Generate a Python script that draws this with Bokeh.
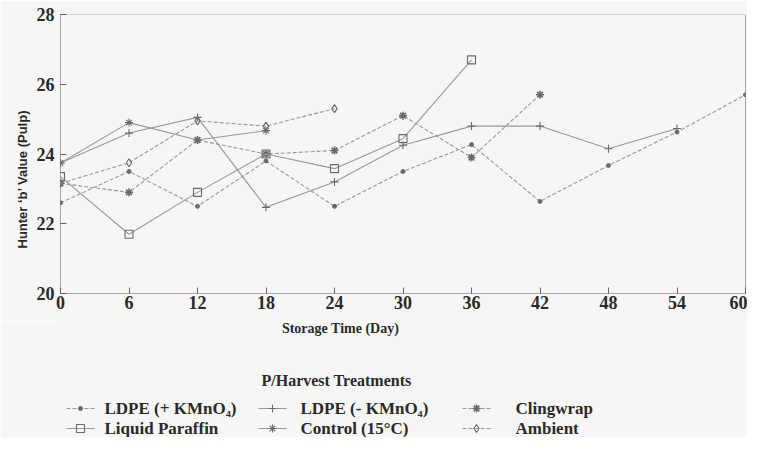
from bokeh.plotting import figure
from bokeh.layouts import column
from bokeh.models import Range1d, Span, FixedTicker, Title
from bokeh.core.properties import value
from bokeh.embed import file_html
from bokeh.resources import INLINE

# ---- data ----
days_all = [0, 6, 12, 18, 24, 30, 36, 42, 48, 54, 60]
ldpe_plus = [22.6, 23.5, 22.5, 23.8, 22.5, 23.5, 24.27, 22.64, 23.67, 24.63, 25.7]
ldpe_minus = [23.74, 24.6, 25.05, 22.47, 23.2, 24.25, 24.8, 24.8, 24.15, 24.73]
clingwrap = [23.16, 22.9, 24.4, 24.0, 24.1, 25.1, 23.9, 25.7]
liquid_paraffin = [23.35, 21.7, 22.9, 24.0, 23.58, 24.44, 26.7]
control = [23.74, 24.9, 24.4, 24.67]
ambient = [23.16, 23.75, 24.95, 24.8, 25.3]

names = ["LDPE (+ KMnO\u2084)", "LDPE (- KMnO\u2084)", "Clingwrap",
         "Liquid Paraffin", "Control (15\u00b0C)", "Ambient"]
series = [ldpe_plus, ldpe_minus, clingwrap, liquid_paraffin, control, ambient]
markers = ["circle", "cross", "asterisk", "square", "asterisk", "diamond"]
x_ticks = [0, 6, 12, 18, 24, 30, 36, 42, 48, 54, 60]
y_ticks = [20, 22, 24, 26, 28]
x_title = "Storage Time (Day)"
y_title = "Hunter \u2018b\u2019 Value (Pulp)"
legend_title = "P/Harvest Treatments"

BG = "#f6f6f4"
TXT = "#2a2a2a"
LINE = "#999999"
MK = "#6a6a6a"
SERIF = "Liberation Serif"

dashes = ["4 2", "solid", "4 2", "solid", "solid", "4 2"]
msizes = [4, 8, 8, 8, 8, 8]
mfill = [MK, None, MK, None, None, None]
mwidth = [1, 1.1, 1.6, 1.1, 1.1, 1.1]

W = 747
BL, BR, BT, BB = 60, 2, 14, 28
H1 = 321
H2 = 116

p = figure(width=W, height=H1, output_backend="svg", toolbar_location=None,
           x_range=Range1d(0, 60), y_range=Range1d(20, 28),
           min_border_left=BL, min_border_right=BR, min_border_top=BT,
           min_border_bottom=BB, background_fill_color=BG, border_fill_color=BG)
p.outline_line_color = None
p.grid.visible = False

for s, mk, dsh, ms, mf, mw in zip(series, markers, dashes, msizes, mfill, mwidth):
    xs = days_all[:len(s)]
    p.line(xs, s, line_color=LINE, line_width=1.1, line_dash=dsh)
    p.scatter(xs, s, marker=mk, size=ms, line_color=MK, fill_color=mf,
              line_width=mw)

p.xaxis.ticker = FixedTicker(ticks=x_ticks)
p.yaxis.ticker = FixedTicker(ticks=y_ticks)
for ax in (p.xaxis[0], p.yaxis[0]):
    ax.axis_line_color = "#555555"
    ax.axis_line_dash = "1 1"
    ax.major_tick_in = 6
    ax.major_tick_out = 0
    ax.minor_tick_line_color = None
    ax.major_tick_line_color = "#666666"
    ax.major_label_text_font = SERIF
    ax.major_label_text_font_style = "bold"
    ax.major_label_text_font_size = "18px"
    ax.major_label_text_color = TXT
p.xaxis.major_label_standoff = 2
p.yaxis.major_label_standoff = 6

p.add_layout(Span(location=28, dimension="width", line_color="#666666",
                  line_dash="1 1", line_width=1))
p.add_layout(Span(location=60, dimension="height", line_color="#555555",
                  line_width=1))

# y-axis title as a side title, anchored at the bottom and lifted by an offset
p.add_layout(Title(text=y_title, align="left", offset=45, standoff=8,
                   text_font="Liberation Sans", text_font_style="bold",
                   text_font_size="13px", text_color=TXT), "left")

# ---- second panel: x-axis title and legend (coordinates in picture pixels) ----
q = figure(width=W, height=H2, output_backend="svg", toolbar_location=None,
           x_range=Range1d(BL, W - BR), y_range=Range1d(H1 + H2, H1),
           min_border_left=BL, min_border_right=BR, min_border_top=0,
           min_border_bottom=0, background_fill_color=BG, border_fill_color=BG)
q.outline_line_color = None
q.axis.visible = False
q.grid.visible = False

q.text(x=[340], y=[328], text=[x_title], text_font=value(SERIF),
       text_font_style="bold", text_font_size="14px", text_color=TXT,
       text_align="center", text_baseline="middle")
q.text(x=[336], y=[380], text=[legend_title], text_font=value(SERIF),
       text_font_style="bold", text_font_size="16px", text_color=TXT,
       text_align="center", text_baseline="middle")

seg_x = [66, 258, 462]
txt_x = [104, 300, 515]
row_y = [408, 428]
for i, (nm, mk, dsh, ms, mf, mw) in enumerate(zip(names, markers, dashes, msizes, mfill, mwidth)):
    sx = seg_x[i % 3]
    cy = row_y[i // 3]
    q.line([sx, sx + 28], [cy, cy], line_color=LINE, line_width=1.1, line_dash=dsh)
    q.scatter([sx + 14], [cy], marker=mk, size=ms, line_color=MK, fill_color=mf,
              line_width=mw)
    q.text(x=[txt_x[i % 3]], y=[cy], text=[nm], text_font=value(SERIF),
           text_font_style="bold", text_font_size="17px", text_color=TXT,
           text_align="left", text_baseline="middle")

layout = column(p, q, spacing=0)
open("out.html", "w").write(file_html(layout, INLINE))
